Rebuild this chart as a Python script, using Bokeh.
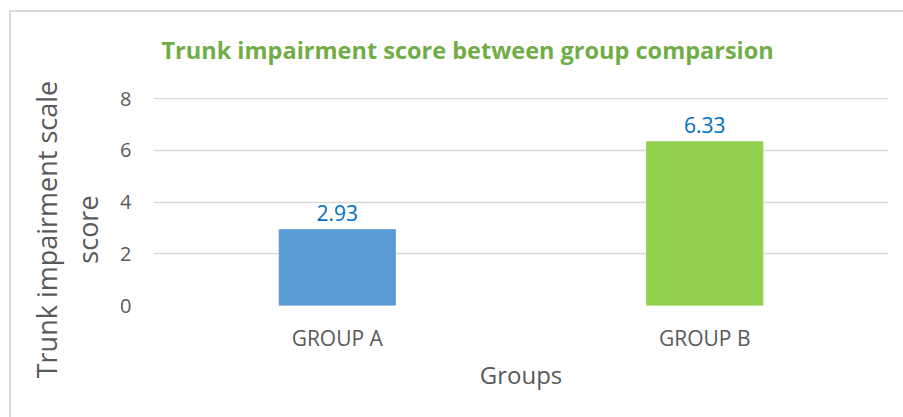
from bokeh.plotting import figure
from bokeh.models import ColumnDataSource, FactorRange, Range1d, FixedTicker
from bokeh.embed import file_html
from bokeh.resources import INLINE
from bokeh.core.properties import value

groups = ["GROUP A", "GROUP B"]
scores = [2.93, 6.33]
score_labels = ["2.93", "6.33"]
bar_colors = ["#5B9BD5", "#92D050"]
y_ticks = [0, 2, 4, 6, 8]

FONT = "Open Sans"
GRAY = "#595959"
H = 417
PAD = "\u00a0" * 8

src = ColumnDataSource(dict(g=groups, v=scores, lab=score_labels, c=bar_colors))

p = figure(width=903, height=H, x_range=FactorRange(*groups), y_range=Range1d(0, 8.04),
           output_backend="svg", toolbar_location=None,
           min_border_left=153, min_border_right=15, min_border_top=97, min_border_bottom=112)
p.background_fill_color = None
p.border_fill_color = None
p.outline_line_color = None
p.styles = {
    "background": "linear-gradient(#d9d9d9,#d9d9d9) 9px 10px / 2px 100% no-repeat, "
                  "linear-gradient(#d9d9d9,#d9d9d9) 9px 10px / 100% 2px no-repeat, #ffffff",
}

p.title.text = "Trunk impairment score between group comparsion"
p.title.align = "left"
p.title.offset = 8
p.title.standoff = 63
p.title.text_color = "#70AD47"
p.title.text_font = FONT
p.title.text_font_size = "23.5px"
p.title.text_font_style = "bold"

p.vbar(x="g", top="v", width=0.316, color="c", source=src)
p.text(x="g", y="v", text="lab", source=src, text_align="center", text_baseline="middle",
       y_offset=-17, text_color="#0070C0", text_font_size="21px", text_font=value(FONT))

p.xgrid.grid_line_color = None
p.ygrid.grid_line_color = "#d9d9d9"
p.ygrid.grid_line_width = 1.5
p.yaxis.ticker = FixedTicker(ticks=y_ticks)

for ax in (p.xaxis[0], p.yaxis[0]):
    ax.axis_line_color = None
    ax.major_tick_line_color = None
    ax.minor_tick_line_color = None
    ax.major_label_text_color = GRAY
    ax.major_label_text_font = FONT
    ax.axis_label_text_font = FONT
    ax.axis_label_text_font_style = "normal"
    ax.axis_label_text_color = GRAY
p.yaxis.major_label_text_font_size = "20px"
p.xaxis.major_label_text_font_size = "21px"
p.yaxis.major_label_standoff = 16
p.xaxis.major_label_standoff = 12

p.xaxis.axis_label = "Groups"
p.xaxis.axis_label_text_font_size = "24px"
p.xaxis.axis_label_standoff = 3

p.yaxis.axis_label = "Trunk impairment scale" + PAD + "\nscore" + PAD
p.yaxis.axis_label_text_font_size = "27px"
p.yaxis.axis_label_standoff = 11
p.yaxis.axis_label_text_line_height = 1.1

open("out.html", "w").write(file_html(p, INLINE))
